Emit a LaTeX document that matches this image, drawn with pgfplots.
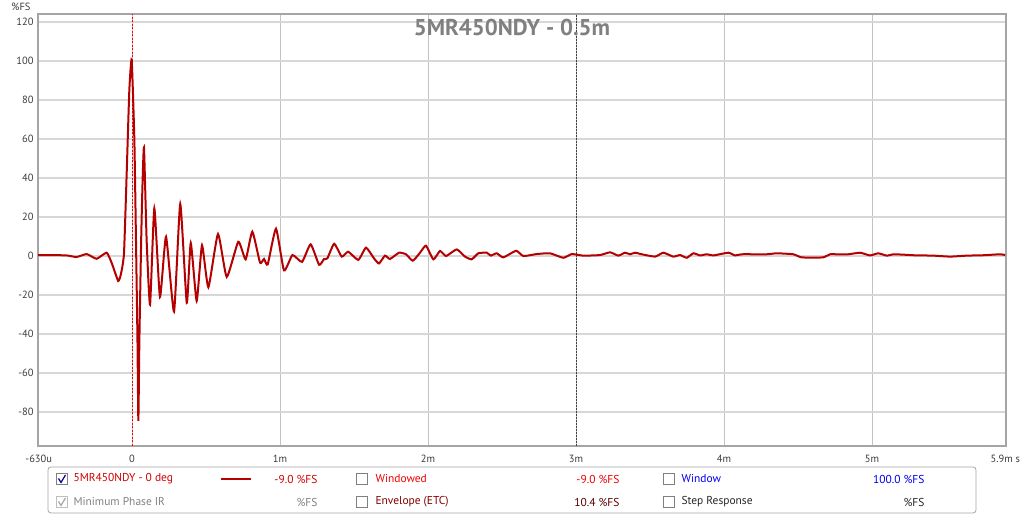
\documentclass[border=0pt]{standalone}
\usepackage{fontspec}
\setmainfont{PT Sans}
\usepackage{pgfplots}
\pgfplotsset{compat=1.18}
\definecolor{curve}{RGB}{180,0,0}
\definecolor{tick}{RGB}{60,60,60}
\definecolor{frame}{RGB}{165,165,165}
\definecolor{hgrid}{RGB}{215,215,215}
\definecolor{vgrid}{RGB}{195,195,195}
\definecolor{ttl}{RGB}{128,128,128}
\definecolor{lred}{RGB}{210,0,0}
\definecolor{lbright}{RGB}{240,0,0}
\definecolor{lblue}{RGB}{0,0,240}
\definecolor{lbrown}{RGB}{130,0,0}
\definecolor{lgray}{RGB}{130,130,130}
\pgfplotstableread{
t v
-0.635 0.4
-0.554 0.5
-0.441 0.3
-0.374 -0.5
-0.306 1.0
-0.239 -1.4
-0.171 1.7
-0.135 -4
-0.093 -12.8
-0.074 -9
-0.054 1.4
-0.036 42
-0.018 85
-0.002 100.5
0.016 59.5
0.027 8
0.037 -43
0.043 -84.5
0.050 -43
0.062 8
0.070 34
0.081 55.7
0.099 8
0.122 -25
0.151 24.4
0.189 -21
0.230 9.9
0.284 -28.5
0.326 26.7
0.370 -24
0.397 6.7
0.437 -23
0.473 5.5
0.516 -16
0.581 11.3
0.640 -10.7
0.718 7.3
0.768 -1.7
0.813 12.5
0.865 -3.4
0.892 -1.5
0.917 -4.3
0.973 14
1.027 -7.4
1.084 0.5
1.149 -3.0
1.207 6
1.264 -4.5
1.297 -1.6
1.320 -1.2
1.366 6.3
1.417 -0.3
1.461 2.2
1.529 -2
1.581 4.3
1.635 -1.2
1.669 -3.8
1.709 0.2
1.743 -1.5
1.804 1.7
1.851 0.9
1.897 -2.4
1.946 1.7
1.986 5.3
2.036 -1.7
2.081 2.6
2.122 0
2.194 3.4
2.250 -0.3
2.295 -1.7
2.340 1.4
2.397 1.7
2.424 0.2
2.464 1.4
2.509 -0.7
2.595 2.7
2.644 0
2.734 1
2.824 1.4
2.914 -0.9
2.971 1
3.049 0.2
3.162 0.5
3.230 1.9
3.286 0.2
3.331 1.7
3.365 0.9
3.399 1.7
3.444 0.9
3.534 -0.3
3.590 1.7
3.657 -0.3
3.703 0.5
3.748 -0.9
3.793 1.4
3.838 0.3
3.883 0.9
3.928 0.3
4.029 1.7
4.074 0.3
4.120 0.9
4.289 0.9
4.356 1.4
4.468 0.9
4.525 -0.7
4.671 -0.7
4.716 0.9
4.829 0.8
4.919 1.7
4.986 0.3
5.042 1.4
5.099 0.2
5.145 0.9
5.211 0.7
5.279 0.4
5.414 0.2
5.527 -0.3
5.640 0.2
5.752 0.4
5.865 0.9
5.899 0.5
}\irdata
\newcommand{\cbox}[2]{%
  \draw[gray, fill=white] (#1-5.5,#2-5.5) rectangle (#1+5.5,#2+5.5);}
\begin{document}
\begin{tikzpicture}[x=1bp,y=1bp]
\path[fill=white] (0,0) rectangle (1024,515);
\useasboundingbox (0,0) rectangle (1024,515);
\begin{axis}[
  at={(38bp,69bp)}, anchor=south west,
  scale only axis, width=968bp, height=432bp,
  xmin=-0.635, xmax=5.905, ymin=-97.4, ymax=124.1,
  xtick={-0.63,0,1,2,3,4,5,5.9},
  xticklabels={-630u,0,1m,2m,3m,4m,5m,5.9m s},
  ytick={-80,-60,-40,-20,0,20,40,60,80,100,120},
  yticklabels={-80,-60,-40,-20,0,20,40,60,80,100,120},
  major tick length=0pt,
  grid=major,
  x grid style={vgrid, line width=0.9bp},
  y grid style={hgrid, line width=1.6bp},
  axis line style={frame, line width=2bp},
  tick label style={font=\fontsize{10.5}{12}\selectfont, text=tick},
  xticklabel style={yshift=-6bp},
  yticklabel style={xshift=-1bp},
  axis background/.style={fill=white},
]
\draw[red, dashed, line width=0.6bp, dash pattern=on 2bp off 1.5bp] (axis cs:0,-97.4) -- (axis cs:0,124.1);
\draw[black!75, line width=0.9bp, dash pattern=on 1.5bp off 1.5bp] (axis cs:3,-97.4) -- (axis cs:3,124.1);
\addplot[curve, line width=2bp, smooth, tension=0.3, no markers] table[x=t, y=v] {\irdata};
\end{axis}
% titles and units
\node[font=\bfseries\fontsize{23}{26}\selectfont, text=ttl] at (512,487.5) {5MR450NDY - 0.5m};
\node[font=\fontsize{10.5}{12}\selectfont, text=tick] at (21,508.5) {\%FS};
% legend panel
\draw[frame, line width=0.8bp, rounded corners=3bp] (48,2) rectangle (976,48);
\cbox{62}{36}
\draw[blue!60!black, line width=1.2bp] (58.5,36.5) -- (61,32.5) -- (65.5,40);
\node[anchor=west, font=\fontsize{11.5}{13}\selectfont, text=lred] at (70,36) {5MR450NDY - 0 deg};
\draw[curve, line width=2bp] (221,36) -- (251,36);
\node[anchor=east, font=\fontsize{11.5}{13}\selectfont, text=lred] at (321,36) {-9.0 \%FS};
\cbox{362}{36}
\node[anchor=west, font=\fontsize{11.5}{13}\selectfont, text=lbright] at (372,36) {Windowed};
\node[anchor=east, font=\fontsize{11.5}{13}\selectfont, text=lbright] at (623,36) {-9.0 \%FS};
\cbox{669}{36}
\node[anchor=west, font=\fontsize{11.5}{13}\selectfont, text=lblue] at (678,36) {Window};
\node[anchor=east, font=\fontsize{11.5}{13}\selectfont, text=lblue] at (928,36) {100.0 \%FS};
\draw[gray!50, fill=white] (56.5,7.5) rectangle (67.5,18.5);
\draw[gray!70, line width=1.2bp] (58.5,13.5) -- (61,9.5) -- (65.5,17);
\node[anchor=west, font=\fontsize{11.5}{13}\selectfont, text=lgray] at (70,13) {Minimum Phase IR};
\node[anchor=east, font=\fontsize{11.5}{13}\selectfont, text=lgray] at (321,13) {\%FS};
\cbox{362}{13}
\node[anchor=west, font=\fontsize{11.5}{13}\selectfont, text=lbrown] at (372,13) {Envelope (ETC)};
\node[anchor=east, font=\fontsize{11.5}{13}\selectfont, text=lbrown!70!black] at (623,13) {10.4 \%FS};
\cbox{669}{13}
\node[anchor=west, font=\fontsize{11.5}{13}\selectfont, text=black!85] at (678,13) {Step Response};
\node[anchor=east, font=\fontsize{11.5}{13}\selectfont, text=black!85] at (928,13) {\%FS};
\end{tikzpicture}
\end{document}
